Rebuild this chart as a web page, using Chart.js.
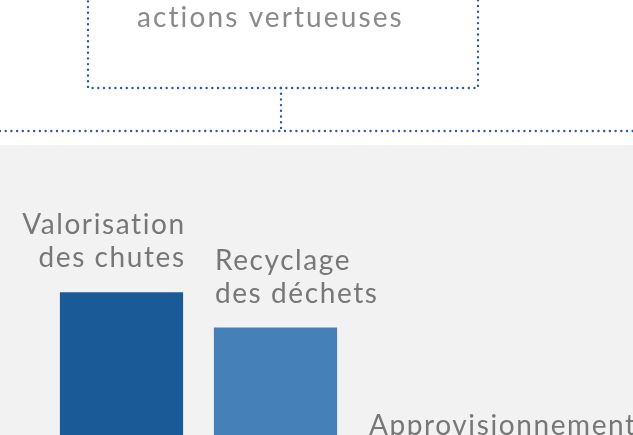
<!DOCTYPE html>
<html>
<head>
<meta charset="utf-8">
<script src="https://cdn.jsdelivr.net/npm/chart.js@4"></script>
<style>
  html, body { margin: 0; padding: 0; width: 633px; height: 435px; overflow: hidden; background: #fff; }
  #wrap { position: absolute; left: 0; top: 0; width: 633px; height: 560px; }
</style>
</head>
<body>
<div id="wrap"><canvas id="chart" width="633" height="560"></canvas></div>
<script>
// labels (one entry per line)
const categories = [
  ['Valorisation', 'des chutes'],
  ['Recyclage', 'des déchets'],
  ['Approvisionnement']
];
const values = [64.5, 56, 24];
const barColors = ['#1a5a96', '#4580b9', '#7ea9d6'];
const headerText = 'actions vertueuses';

const FONT = '28px Lato, "Open Sans", sans-serif';
const SPACING = 1.6;

// white header with dotted frame + grey band behind the bars
const backdrop = {
  id: 'backdrop',
  beforeDraw(chart) {
    const ctx = chart.ctx;
    const top = chart.chartArea.top;
    ctx.save();
    ctx.fillStyle = '#ffffff';
    ctx.fillRect(0, 0, chart.width, top);
    ctx.fillStyle = '#f2f2f2';
    ctx.fillRect(0, top, chart.width, chart.height - top);

    ctx.strokeStyle = '#255ca6';
    ctx.lineWidth = 2.4;
    ctx.lineCap = 'round';
    ctx.setLineDash([0, 5.7]);
    ctx.beginPath();
    ctx.moveTo(88, -10);
    ctx.lineTo(88, 88);
    ctx.lineTo(478, 88);
    ctx.lineTo(478, -10);
    ctx.stroke();
    ctx.beginPath();
    ctx.moveTo(281, 88);
    ctx.lineTo(281, 131);
    ctx.stroke();
    ctx.beginPath();
    ctx.moveTo(0, 131);
    ctx.lineTo(chart.width, 131);
    ctx.stroke();
    ctx.setLineDash([]);

    ctx.font = FONT;
    ctx.letterSpacing = '2.1px';
    ctx.fillStyle = '#8a8a8a';
    ctx.textAlign = 'left';
    ctx.textBaseline = 'alphabetic';
    ctx.fillText(headerText, 137, 27);
    ctx.restore();
  }
};

// category names sitting above each bar
const barLabels = {
  id: 'barLabels',
  afterDatasetsDraw(chart) {
    const ctx = chart.ctx;
    const meta = chart.getDatasetMeta(0);
    ctx.save();
    ctx.font = FONT;
    ctx.letterSpacing = SPACING + 'px';
    ctx.fillStyle = '#777777';
    ctx.textBaseline = 'alphabetic';
    meta.data.forEach((bar, i) => {
      const lines = categories[i];
      const half = bar.width / 2;
      let x;
      if (i === 0) {
        ctx.textAlign = 'right';
        x = bar.x + half + 1 + SPACING;
      } else {
        ctx.textAlign = 'left';
        x = bar.x - half + 1;
      }
      let y = bar.y - 25;
      for (let k = lines.length - 1; k >= 0; k--) {
        ctx.fillText(lines[k], x, y);
        y -= 33;
      }
    });
    ctx.restore();
  }
};

new Chart(document.getElementById('chart'), {
  type: 'bar',
  data: {
    labels: categories.map(l => l.join(' ')),
    datasets: [{
      data: values,
      backgroundColor: barColors,
      borderWidth: 0,
      barPercentage: 0.8,
      categoryPercentage: 1
    }]
  },
  options: {
    responsive: false,
    animation: false,
    devicePixelRatio: 1,
    layout: { padding: { left: 44.5, right: 126.5, top: 145, bottom: 0 } },
    plugins: { legend: { display: false }, tooltip: { enabled: false } },
    scales: {
      x: { display: false },
      y: { display: false, min: 0, max: 100 }
    }
  },
  plugins: [backdrop, barLabels]
});
</script>
</body>
</html>
